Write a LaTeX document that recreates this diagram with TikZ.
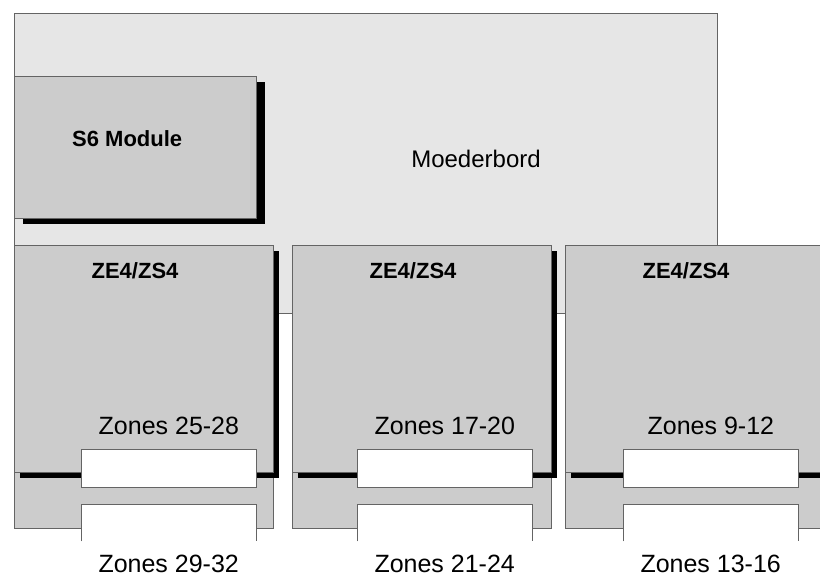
\documentclass[tikz,border=0pt]{standalone}
\usepackage{fontspec}
\setmainfont{Liberation Sans}
\definecolor{BoardGray}{RGB}{230,230,230}
\definecolor{CardGray}{RGB}{204,204,204}
\definecolor{EdgeGray}{RGB}{100,100,100}
\usetikzlibrary{positioning,shadows}
\tikzset{board/.style={rectangle,draw=EdgeGray,fill=BoardGray,line width=0.8pt,inner sep=0pt,anchor=north west}}
\tikzset{card/.style={rectangle,draw=EdgeGray,fill=CardGray,line width=0.8pt,inner sep=0pt,anchor=north west}}
\tikzset{boxshadow/.style={drop shadow={shadow xshift=#1,shadow yshift=-6pt,fill=black,opacity=1}},boxshadow/.default=6pt}
\tikzset{slot/.style={rectangle,fill=white,inner sep=0pt,anchor=north west,minimum width=175pt}}
\tikzset{boldlabel/.style={font=\fontsize{22}{24}\selectfont\bfseries,inner sep=0pt,anchor=base}}
\tikzset{plainlabel/.style={font=\fontsize{25}{28}\selectfont,inner sep=0pt,anchor=base}}

\begin{document}
\begin{tikzpicture}[x=1pt,y=-1pt]
    \useasboundingbox (0,0) rectangle (820,579);
    \clip (0,0) rectangle (820,579);
    % motherboard
    \node[board,minimum width=703pt,minimum height=300pt] (mb) at (14,13) {};
    \node[plainlabel,font=\fontsize{24}{28}\selectfont] (mblabel) at (476,167) {Moederbord};
    % S6 module
    \node[card,boxshadow=8.5pt,minimum width=242pt,minimum height=142pt] (s6) at (14,76) {};
    \node[boldlabel,anchor=base west] (s6label) at ([xshift=58pt,yshift=-70pt]s6.north west) {S6 Module};
    % zone cards
    \foreach \n/\x/\w/\sx/\up/\low in {1/14/259/67/25-28/29-32, 2/292/259/65/17-20/21-24, 3/565/270/58/9-12/13-16}{
        \node[card,minimum width=\w,minimum height=56pt] (strip\n) at (\x,472) {};
        \node[card,boxshadow,minimum width=\w,minimum height=227pt] (card\n) at (\x,245) {};
        \node[boldlabel] (type\n) at ([xshift=121pt,yshift=-33pt]card\n.north west) {ZE4/ZS4};
        \node[slot,draw=EdgeGray,line width=0.8pt,minimum height=38pt] (slotup\n) at ([xshift=\sx,yshift=-204pt]card\n.north west) {};
        \node[slot,minimum height=37pt] (slotlow\n) at ([xshift=\sx,yshift=-259pt]card\n.north west) {};
        \draw[EdgeGray,line width=0.8pt] (slotlow\n.south west) |- (slotlow\n.north east) -- (slotlow\n.south east);
        \node[plainlabel] (zoneup\n) at ([yshift=15pt]slotup\n.north) {Zones \up};
        \node[plainlabel] (zonelow\n) at ([yshift=-31pt]slotlow\n.south) {Zones \low};
    }
\end{tikzpicture}
\end{document}
